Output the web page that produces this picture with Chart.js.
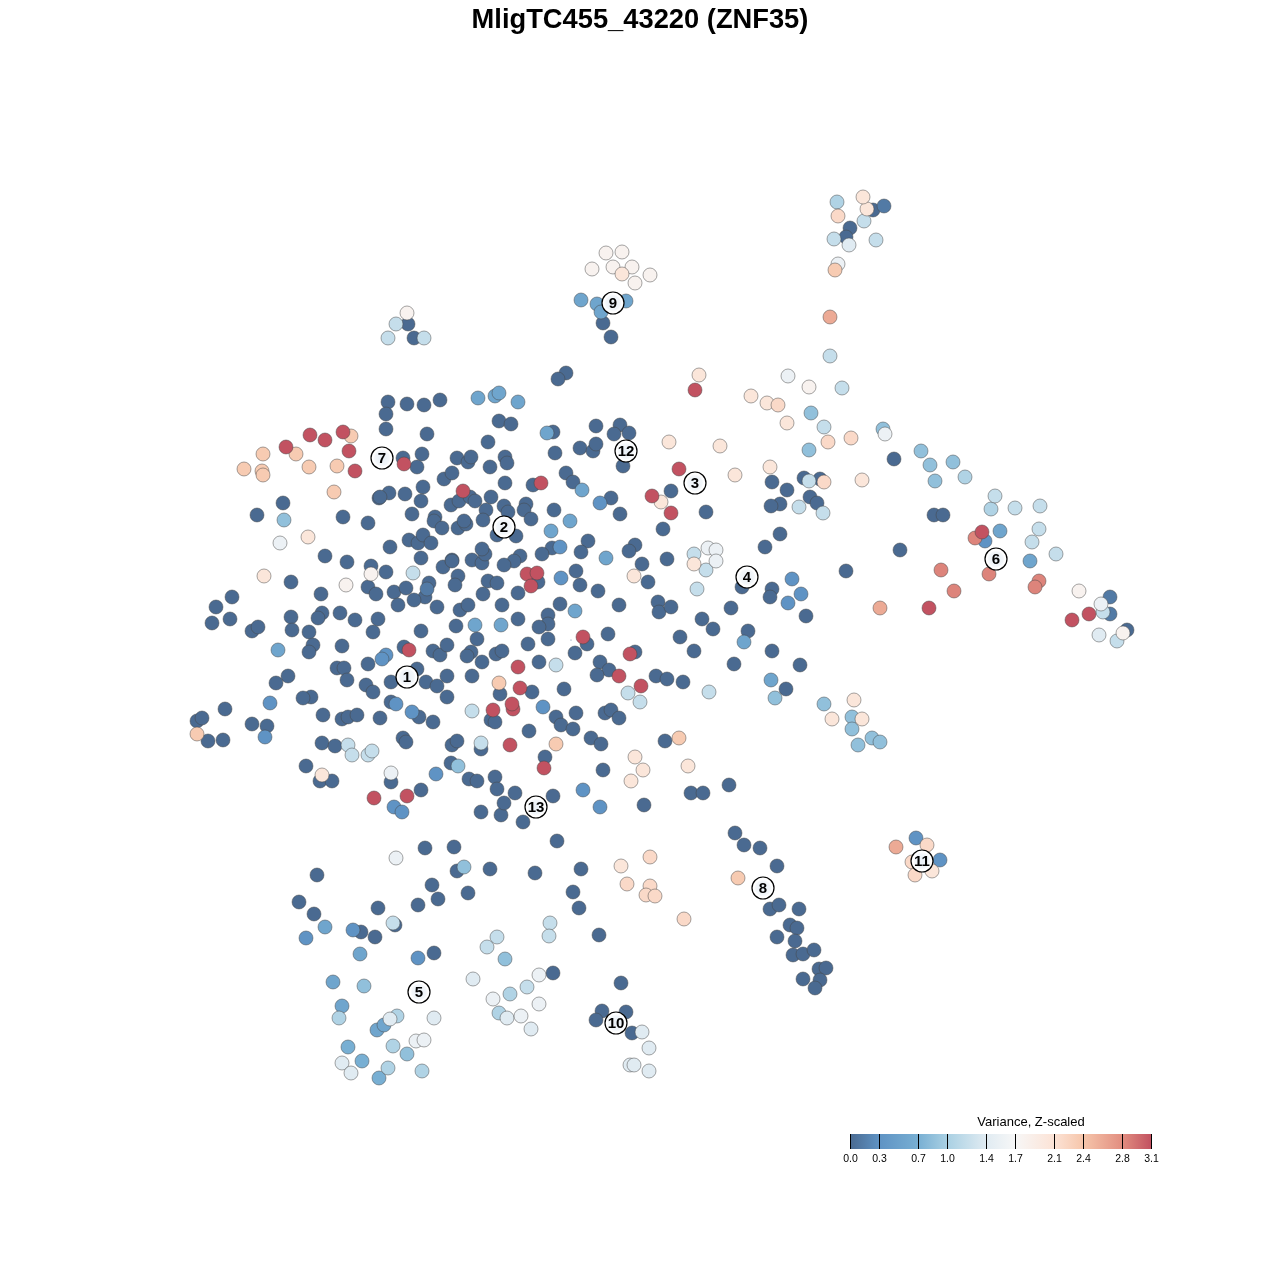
<!DOCTYPE html>
<html><head><meta charset="utf-8">
<style>html,body{margin:0;padding:0;background:#fff}canvas{display:block}</style>
<script src="https://cdn.jsdelivr.net/npm/chart.js@4"></script>
</head><body><canvas id="c" width="1280" height="1280"></canvas>
<script>
const titleText = "MligTC455_43220 (ZNF35)";
const legendTitle = "Variance, Z-scaled";
const legendTicks = [0.0,0.3,0.7,1.0,1.4,1.7,2.1,2.4,2.8,3.1];
const legendTickLabels = ["0.0","0.3","0.7","1.0","1.4","1.7","2.1","2.4","2.8","3.1"];
const colorStops = [[0,"#4a6a91"],[0.3,"#5f93c4"],[0.7,"#78afd3"],[1.0,"#a9d0e3"],[1.4,"#e0ebf2"],[1.7,"#f7f7f7"],[2.1,"#fce3d6"],[2.4,"#f6c6ab"],[2.8,"#e28e80"],[3.1,"#c25261"]];

const tierValues = [0.0,0.12,0.3,0.55,0.7,0.85,1.05,1.2,1.4,1.55,1.8,2.05,2.2,2.35,2.6,2.85,3.1];
const v000 = [[388,402],[407,404],[424,405],[440,400],[386,414],[386,429],[427,434],[488,442],[499,421],[511,424],[403,458],[422,454],[417,467],[457,458],[468,462],[471,457],[490,467],[444,479],[452,473],[389,493],[379,498],[380,497],[405,494],[423,487],[421,501],[412,514],[451,505],[459,501],[470,497],[475,501],[491,497],[486,510],[483,520],[435,517],[434,521],[442,528],[458,528],[466,524],[464,521],[283,503],[257,515],[343,517],[368,523],[390,547],[325,556],[347,562],[371,566],[386,572],[409,540],[418,543],[423,535],[431,543],[421,558],[443,567],[452,560],[452,561],[472,560],[482,563],[485,554],[482,549],[458,576],[455,585],[488,581],[497,583],[483,594],[291,582],[321,594],[232,597],[216,607],[230,619],[212,623],[291,617],[322,613],[318,618],[340,613],[355,620],[378,619],[368,587],[376,594],[394,592],[406,588],[429,583],[425,597],[414,600],[398,605],[437,607],[460,610],[468,605],[502,605],
[252,631],[258,627],[292,630],[373,632],[309,632],[313,645],[309,652],[342,646],[368,664],[337,668],[344,668],[347,680],[366,685],[373,692],[391,682],[404,647],[417,669],[426,682],[437,686],[447,676],[447,697],[433,651],[440,655],[447,645],[421,631],[456,626],[477,639],[471,652],[467,656],[482,662],[472,676],[496,654],[502,651],[500,694],[288,676],[276,683],[311,697],[303,698],[323,715],[342,719],[348,717],[357,715],[380,718],[391,702],[419,717],[433,722],[225,709],[197,721],[202,718],[208,741],[223,740],[252,724],[267,726],[322,743],[335,746],[403,738],[406,742],[452,745],[457,741],[481,749],[306,766],[451,763],[391,782],[320,781],[332,781],[469,779],[477,781],[421,790],[495,777],[497,789],[481,812],[501,815],[491,720],[495,722],
[566,373],[558,379],[505,457],[507,463],[505,483],[533,485],[555,453],[553,432],[596,426],[620,425],[614,434],[629,433],[580,448],[593,451],[596,444],[623,466],[566,473],[573,482],[611,498],[620,514],[671,491],[706,512],[663,529],[504,506],[508,512],[526,504],[524,510],[531,519],[554,510],[516,536],[497,535],[588,541],[552,548],[542,554],[581,552],[520,556],[514,561],[504,565],[635,545],[629,551],[642,564],[667,559],[648,582],[576,571],[580,585],[598,591],[619,605],[658,602],[659,612],[671,607],[702,619],[731,608],[742,587],[772,589],[770,597],[765,547],[780,534],[772,482],[787,490],[780,504],[771,506],[804,478],[820,479],[810,497],[817,503],[538,582],[518,593],[560,604],[548,615],[518,619],[548,624],[539,627],[548,639],[528,644],[575,653],[587,644],[608,634],[635,652],[539,662],[600,662],[609,670],[597,675],[656,676],[667,679],[683,682],[680,637],[713,629],[694,651],[748,631],[734,664],[772,651],[800,665],[786,689],[532,692],[564,689],[556,717],[561,725],[576,713],[573,729],[605,713],[611,710],[619,718],[529,731],[591,738],[601,744],[665,741],[545,757],[603,770],[515,793],[504,803],[553,796],[523,822],[644,805],[691,793],[703,793],[729,785],[735,833],[557,841],[806,616],
[873,210],[850,228],[846,237],[603,323],[611,337],[408,324],[414,338],[894,459],[934,515],[943,515],[900,550],[846,571],[1127,630],
[744,845],[760,848],[777,866],[770,909],[779,905],[799,909],[777,937],[790,925],[797,928],[795,941],[793,955],[803,954],[814,950],[819,969],[826,968],[820,980],[803,979],[815,988],
[425,848],[454,847],[457,871],[490,869],[535,873],[581,869],[317,875],[432,885],[468,893],[438,899],[418,905],[299,902],[314,914],[378,908],[573,892],[579,908],[599,935],[361,932],[375,937],[395,925],[434,953],[553,973],[621,983],[602,1011],[626,1012],[596,1020],[632,1033]];
const v012 = [[884,206],[1110,614],[427,589],[1110,597]];
const v030 = [[396,704],[412,712],[386,655],[382,659],[270,703],[265,737],[394,807],[402,812],[436,774],[600,503],[560,547],[561,578],[543,707],[583,790],[600,807],[792,579],[788,603],[801,594],[985,541],[940,860],[916,838],[306,938],[353,930],[418,958]];
const v055 = [[478,398],[495,396],[499,393],[518,402],[547,433],[475,625],[501,625],[278,650],[582,490],[570,521],[551,531],[606,558],[575,611],[581,300],[597,304],[626,301],[601,312],[744,642],[771,680],[325,927],[360,954],[1000,531],[1030,561],[333,982],[342,1006],[377,1030],[384,1025]];
const v070 = [[348,1047],[362,1061],[379,1078]];
const v085 = [[284,520],[458,766],[921,451],[930,465],[953,462],[935,481],[883,429],[824,704],[852,717],[852,729],[858,745],[872,738],[880,742],[464,867],[505,959],[364,986],[407,1054],[775,698],[809,450],[811,413]];
const v105 = [[339,1018],[393,1046],[388,1068],[422,1071],[397,1016],[510,994],[499,1013],[837,202],[965,477],[991,509]];
const v120 = [[413,573],[472,711],[348,745],[352,755],[368,755],[372,751],[481,743],[556,665],[628,693],[640,702],[709,692],[694,554],[706,570],[697,589],[799,507],[823,513],[809,481],[830,356],[842,388],[824,427],[864,221],[834,239],[876,240],[396,324],[388,338],[424,338],[995,496],[1015,508],[1040,506],[1039,529],[1032,542],[1056,554],[1117,641],[1103,612],[393,923],[550,923],[549,936],[497,937],[487,947],[527,987]];
const v140 = [[434,1018],[342,1063],[351,1073],[390,1019],[849,245],[473,979],[531,1029],[642,1032],[649,1048],[630,1065],[634,1065],[649,1071],[1099,635],[507,1018]];
const v155 = [[280,543],[391,773],[396,858],[708,548],[716,550],[716,561],[788,376],[838,264],[885,434],[416,1041],[424,1040],[539,975],[493,999],[539,1004],[521,1016],[1101,604]];
const v180 = [[371,574],[346,585],[407,313],[606,253],[622,252],[613,267],[632,267],[592,269],[650,275],[635,283],[809,387],[1079,591],[1123,633]];
const v205 = [[308,537],[264,576],[322,775],[699,375],[751,396],[767,403],[787,423],[669,442],[720,446],[735,475],[770,467],[661,502],[634,576],[694,564],[635,757],[643,770],[631,781],[688,766],[622,274],[862,480],[854,700],[862,719],[832,719],[867,209],[863,197],[621,866],[932,871]];
const v220 = [[778,405],[838,216],[828,442],[851,438],[824,482],[650,857],[627,884],[650,886],[646,895],[655,896],[684,919],[927,845],[912,862],[915,875]];
const v235 = [[351,436],[263,454],[296,454],[244,469],[262,471],[263,475],[309,467],[337,466],[334,492],[197,734],[499,683],[556,744],[679,738],[835,270],[738,878]];
const v260 = [[830,317],[896,847],[880,608]];
const v285 = [[941,570],[954,591],[989,574],[1039,581],[1035,587],[975,538]];
const v310 = [[310,435],[325,440],[343,432],[286,447],[349,451],[355,471],[404,464],[463,491],[541,483],[652,496],[679,469],[671,513],[695,390],[527,574],[537,573],[531,586],[409,650],[374,798],[407,796],[493,710],[583,637],[630,654],[518,667],[619,676],[641,686],[520,688],[513,709],[512,704],[510,745],[544,768],[982,532],[929,608],[1089,614],[1072,620]];
const tierPoints = [v000,v012,v030,v055,v070,v085,v105,v120,v140,v155,v180,v205,v220,v235,v260,v285,v310];

const clusterIds = ["1","2","3","4","5","6","7","8","9","10","11","12","13"];
const clusterX = [407,504,695,747,419,996,382,763,613,616,922,626,536];
const clusterY = [677,527,483,577,992,559,458,888,303,1023,861,451,807];

function hexRgb(h){return [1,3,5].map(i=>parseInt(h.substr(i,2),16));}
function colorFor(v){
  for(let i=1;i<colorStops.length;i++){
    if(v<=colorStops[i][0]){
      const [a,ca]=colorStops[i-1],[b,cb]=colorStops[i];
      const t=(v-a)/(b-a),A=hexRgb(ca),B=hexRgb(cb);
      return "rgb("+A.map((c,k)=>Math.round(c+(B[k]-c)*t)).join(",")+")";
    }
  }
  return colorStops[colorStops.length-1][1];
}
const datasets = tierPoints.map((pts,i)=>({
  label:"v"+tierValues[i],
  data:pts.map(p=>({x:p[0],y:p[1]})),
  order:100-i,
  pointRadius:7,
  pointBorderWidth:1,
  pointBackgroundColor:colorFor(tierValues[i]),
  pointBorderColor:"rgba(70,70,70,0.48)"
}));
datasets.push({label:"clusters",data:clusterX.map((x,i)=>({x,y:clusterY[i]})),order:0,pointRadius:11,pointBorderWidth:1.2,pointBackgroundColor:"#fff",pointBorderColor:"#000"});
datasets.push({label:"speck",data:[{x:571,y:640}],order:1,pointRadius:0.5,pointBorderWidth:0,pointBackgroundColor:"#4a6a91"});

const overlay = {
  id:"overlay",
  afterDatasetsDraw(chart){
    const ctx=chart.ctx;
    const meta=chart.getDatasetMeta(datasets.length-2);
    ctx.save();
    ctx.textAlign="center";ctx.textBaseline="middle";
    meta.data.forEach((el,i)=>{
      const g=ctx.createRadialGradient(el.x,el.y,2,el.x,el.y,9.5);
      g.addColorStop(0,"rgba(232,239,246,0.9)");g.addColorStop(0.7,"rgba(238,243,248,0.7)");g.addColorStop(1,"rgba(255,255,255,0)");
      ctx.fillStyle=g;ctx.beginPath();ctx.arc(el.x,el.y,9.5,0,Math.PI*2);ctx.fill();
      ctx.fillStyle="#000";ctx.font="bold 15px 'Liberation Sans'";
      ctx.fillText(clusterIds[i],el.x,el.y+0.5);
    });
    // colour bar legend
    const x0=850,pxPer=(1151-850)/3.1,top=1134,h=15;
    const px=v=>x0+v*pxPer;
    const grad=ctx.createLinearGradient(x0,0,px(3.1),0);
    colorStops.forEach(s=>grad.addColorStop(s[0]/3.1,s[1]));
    ctx.fillStyle=grad;ctx.fillRect(x0,top,px(3.1)-x0,h);
    ctx.strokeStyle="#000";ctx.lineWidth=1;
    ctx.fillStyle="#000";ctx.font="10.5px 'Liberation Sans'";ctx.textBaseline="middle";
    legendTicks.forEach((v,i)=>{
      const x=Math.round(px(v))+0.5;
      ctx.beginPath();ctx.moveTo(x,top);ctx.lineTo(x,top+h);ctx.stroke();
      ctx.fillText(legendTickLabels[i],x,1159);
    });
    ctx.font="13px 'Liberation Sans'";
    ctx.fillText(legendTitle,1031,1122);
    ctx.restore();
  }
};

new Chart(document.getElementById("c"),{
  type:"scatter",
  data:{datasets},
  plugins:[overlay],
  options:{
    responsive:false,animation:false,
    layout:{padding:0,autoPadding:false},
    plugins:{
      legend:{display:false},tooltip:{enabled:false},
      title:{display:true,text:titleText,color:"#000",padding:{top:6,bottom:1},font:{family:"'Liberation Sans'",size:27.3,weight:"bold",lineHeight:1.0256}}
    },
    scales:{
      x:{type:"linear",min:0,max:1280,display:false},
      y:{type:"linear",min:35,max:1280,reverse:true,display:false}
    }
  }
});
</script></body></html>
